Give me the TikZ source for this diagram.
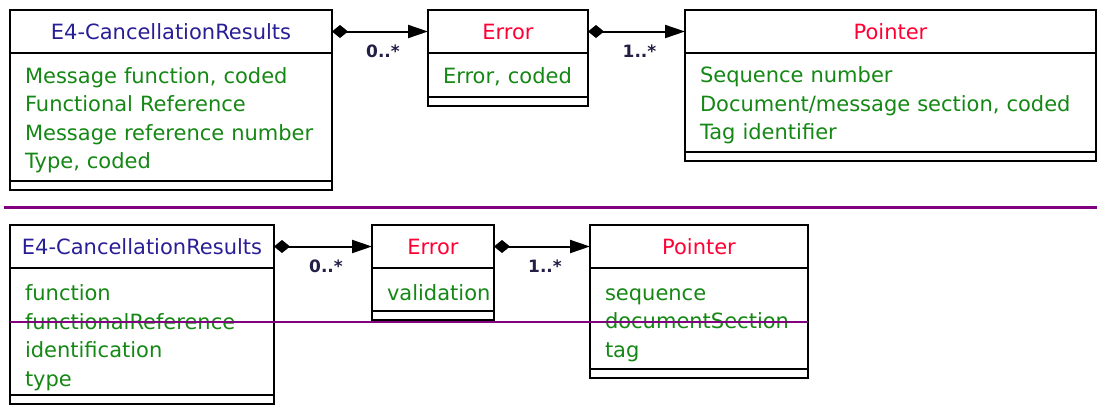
\documentclass[tikz,border=0pt]{standalone}
\usepackage{fontspec}
\setmainfont{DejaVu Sans}
\usepackage{tikz}
\usetikzlibrary{arrows.meta, positioning}
\definecolor{umlblue}{RGB}{40,30,150}
\definecolor{umlred}{RGB}{255,0,51}
\definecolor{umlgreen}{RGB}{20,135,20}
\definecolor{umlpurple}{RGB}{128,0,128}
\definecolor{multdark}{RGB}{35,30,70}

\begin{document}
\begin{tikzpicture}[x=1pt, y=-1pt,
  head/.style={rectangle, draw, line width=2pt, outer sep=0pt, inner sep=0pt, anchor=north west, minimum width=#1, minimum height=43pt, font=\fontsize{21}{28}\selectfont},
  cname/.style={head=#1, text=umlblue},
  ename/.style={head=#1, text=umlred},
  attrs/.style={rectangle, draw, line width=2pt, outer sep=0pt, inner xsep=15pt, inner ysep=0pt, align=left, text=umlgreen, font=\fontsize{21}{28.5}\selectfont, execute at begin node={\rule{0pt}{#1}}},
  foot/.style={rectangle, draw, line width=2pt, outer sep=0pt, inner sep=0pt, minimum width=#1, minimum height=9pt},
  assoc/.style={{Diamond[length=16pt,width=13pt]}-{Triangle[length=20pt,width=13pt]}, line width=2pt},
  mult/.style={below=9pt, xshift=3pt, font=\fontsize{17}{18}\selectfont\bfseries, text=multdark},
  rule/.style={draw=umlpurple, line width=#1}
]
\useasboundingbox (0,0) rectangle (1097,405);
% Specification names
\node[cname=322pt] (ca) at (10,10) {E4-CancellationResults};
\node[attrs=22pt, text width=292pt, minimum height=128pt, below=0pt of ca] (caattr) {Message function, coded\\Functional Reference\\Message reference number\\Type, coded};
\node[foot=322pt, below=0pt of caattr] (cafoot) {};
\node[ename=160pt] (cb) at (428,10) {Error};
\node[attrs=20pt, text width=130pt, minimum height=44pt, below=0pt of cb] (cbattr) {Error, coded};
\node[foot=160pt, below=0pt of cbattr] (cbfoot) {};
\node[ename=411pt] (cc) at (685,10) {Pointer};
\node[attrs=22pt, text width=381pt, minimum height=99pt, below=0pt of cc] (ccattr) {Sequence number\\Document/message section, coded\\Tag identifier};
\node[foot=411pt, below=0pt of ccattr] (ccfoot) {};
\draw[assoc] (ca.east) -- node[mult] {0..*} (cb.west);
\draw[assoc] (cb.east) -- node[mult] {1..*} (cc.west);
% separator
\draw[rule=3pt] (4,207) -- (1097,207);
% Implementation names
\node[cname=264pt] (da) at (10,225) {E4-CancellationResults};
\node[attrs=28pt, text width=234pt, minimum height=127pt, below=0pt of da] (daattr) {function\\functionalReference\\identification\\type};
\node[foot=264pt, below=0pt of daattr] (dafoot) {};
\node[ename=122pt] (db) at (372,225) {Error};
\node[attrs=22pt, text width=92pt, minimum height=43pt, below=0pt of db] (dbattr) {validation};
\node[foot=122pt, below=0pt of dbattr] (dbfoot) {};
\node[ename=218pt] (dc) at (590,225) {Pointer};
\node[attrs=25pt, text width=188pt, minimum height=101pt, below=0pt of dc] (dcattr) {sequence\\documentSection\\tag};
\node[foot=218pt, below=0pt of dcattr] (dcfoot) {};
\draw[assoc] (da.east) -- node[mult] {0..*} (db.west);
\draw[assoc] (db.east) -- node[mult] {1..*} (dc.west);
% strike line
\draw[rule=2pt] (10,322) -- (808,322);
\end{tikzpicture}
\end{document}
